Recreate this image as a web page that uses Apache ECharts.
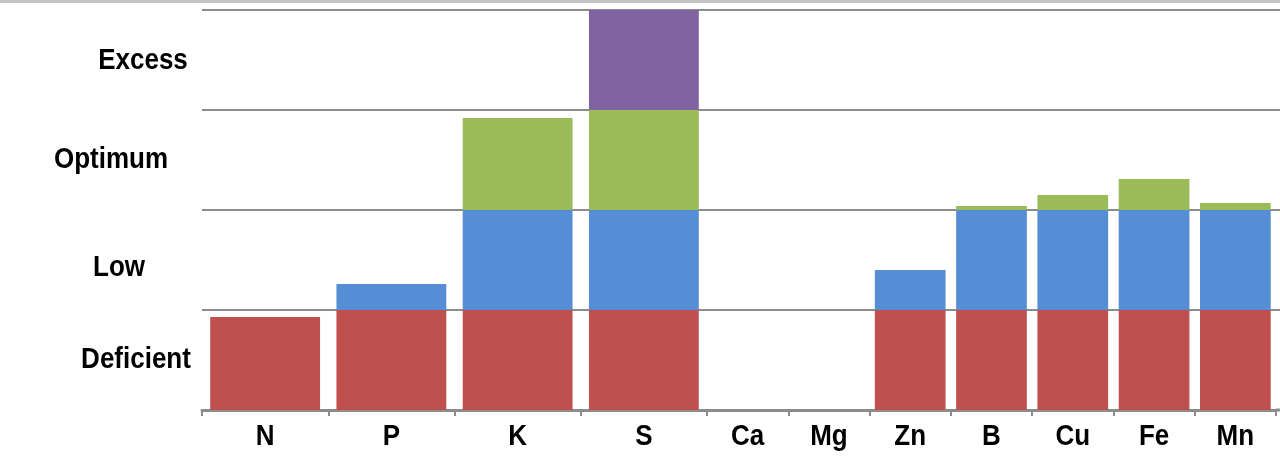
<!DOCTYPE html>
<html>
<head>
<meta charset="utf-8">
<script src="https://cdn.jsdelivr.net/npm/echarts@6/dist/echarts.min.js"></script>
<style>
  html, body { margin: 0; padding: 0; background: #fff; }
  #chart { width: 1280px; height: 461px; }
</style>
</head>
<body>
<div id="chart"></div>
<script>
// ---- Data ----
const categories = ['N', 'P', 'K', 'S', 'Ca', 'Mg', 'Zn', 'B', 'Cu', 'Fe', 'Mn'];
const deficient  = [0.93, 1,    1,    1, 0, 0, 1,    1,    1,    1,    1];
const low        = [0,    0.26, 1,    1, 0, 0, 0.40, 1,    1,    1,    1];
const optimum    = [0,    0,    0.92, 1, 0, 0, 0,    0.04, 0.15, 0.31, 0.07];
const excess     = [0,    0,    0,    1, 0, 0, 0,    0,    0,    0,    0];
const levelLabels = ['Deficient', 'Low', 'Optimum', 'Excess'];
const wideCount = 4; // first group of categories drawn with wider slots

// ---- Styling ----
const colors = { Deficient: '#C0504D', Low: '#558ED5', Optimum: '#9BBB59', Excess: '#8064A2' };
const FONT = '"Liberation Sans", Arial, sans-serif';
const TEXT_FONT = 'bold 26px ' + FONT;
const TEXT_SCALE_Y = 1.13;
const gridColor = '#8c8c8c';

const seriesData = { Deficient: deficient, Low: low, Optimum: optimum, Excess: excess };

const chart = echarts.init(document.getElementById('chart'), null, { renderer: 'canvas' });

const grids = [
  { left: 202, top: 10, width: 505, height: 400 },
  { left: 707, top: 10, width: 569, height: 400 }
];

function xAxisFor(idx, cats) {
  return {
    type: 'category', gridIndex: idx, data: cats,
    axisLine: { show: true, lineStyle: { color: gridColor, width: 3 } },
    axisTick: { show: true, length: 6, lineStyle: { color: gridColor, width: 2 } },
    axisLabel: { show: false },
    splitLine: { show: false }
  };
}
function yAxisFor(idx) {
  return {
    type: 'value', gridIndex: idx, min: 0, max: 4, interval: 1,
    axisLine: { show: false }, axisTick: { show: false }, axisLabel: { show: false },
    splitLine: { show: true, lineStyle: { color: gridColor, width: 2 } }
  };
}

const series = [];
[0, 1].forEach(g => {
  levelLabels.forEach(name => {
    const arr = seriesData[name];
    const part = g === 0 ? arr.slice(0, wideCount) : arr.slice(wideCount);
    series.push({
      name: name, type: 'bar', stack: 'lvl' + g,
      xAxisIndex: g, yAxisIndex: g,
      data: part,
      barCategoryGap: '13%',
      itemStyle: { color: colors[name] },
      silent: true
    });
  });
});

// y-level labels (text), placed beside each band
const labelPos = [
  { text: 'Deficient', x: 136, y: 360 },
  { text: 'Low',       x: 119, y: 268 },
  { text: 'Optimum',   x: 111, y: 160 },
  { text: 'Excess',    x: 143, y: 61 }
];

const graphic = [
  { type: 'rect', left: 0, top: 0, shape: { width: 1280, height: 3 }, style: { fill: '#c4c4c4' }, silent: true }
];
labelPos.forEach(p => {
  graphic.push({
    type: 'text', x: p.x, y: p.y, scaleY: TEXT_SCALE_Y,
    style: { text: p.text, fill: '#000', font: TEXT_FONT, textAlign: 'center', textVerticalAlign: 'middle' },
    silent: true
  });
});
// extend grid lines & axis to the right page edge
[10, 110, 210, 310].forEach(y => {
  graphic.push({ type: 'line', shape: { x1: 1276, y1: y, x2: 1280, y2: y }, style: { stroke: gridColor, lineWidth: 2 }, silent: true });
});
graphic.push({ type: 'line', shape: { x1: 1276, y1: 410, x2: 1280, y2: 410 }, style: { stroke: gridColor, lineWidth: 3 }, silent: true });

chart.setOption({
  animation: false,
  backgroundColor: '#fff',
  grid: grids,
  xAxis: [xAxisFor(0, categories.slice(0, wideCount)), xAxisFor(1, categories.slice(wideCount))],
  yAxis: [yAxisFor(0), yAxisFor(1)],
  series: series,
  graphic: graphic
});

// category labels as text, positioned through the category axes
categories.forEach((c, i) => {
  const g = i < wideCount ? 0 : 1;
  const px = chart.convertToPixel({ xAxisIndex: g }, c);
  graphic.push({
    type: 'text', x: px, y: 437, scaleY: TEXT_SCALE_Y,
    style: { text: c, fill: '#000', font: TEXT_FONT, textAlign: 'center', textVerticalAlign: 'middle' },
    silent: true
  });
});
chart.setOption({ graphic: graphic });
</script>
</body>
</html>
